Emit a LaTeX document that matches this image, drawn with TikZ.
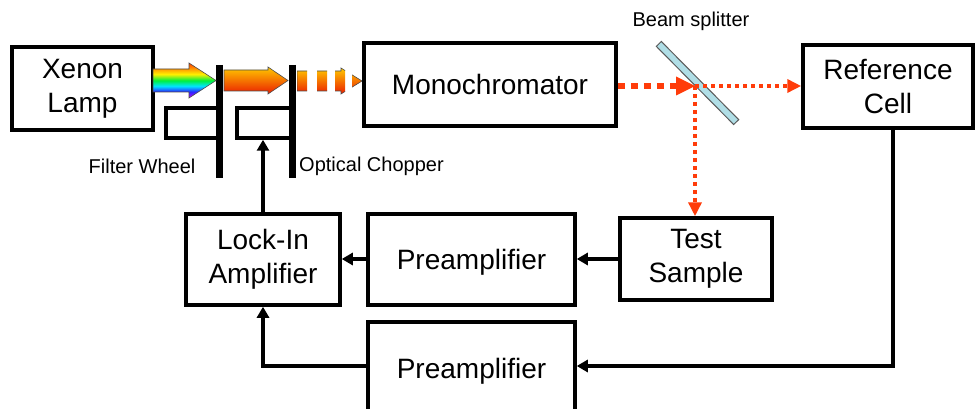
\documentclass[tikz,border=0pt]{standalone}
\usepackage{fontspec}
\setmainfont{Liberation Sans}
\usetikzlibrary{arrows.meta}
\definecolor{beam}{RGB}{255,60,10}
\definecolor{splitfill}{RGB}{176,222,230}
\definecolor{rbviolet}{RGB}{190,0,255}
\definecolor{rbblue}{RGB}{40,40,255}
\definecolor{rbcyan}{RGB}{0,230,255}
\definecolor{rbgreen}{RGB}{0,240,60}
\definecolor{rbyellow}{RGB}{255,240,0}
\definecolor{rborange}{RGB}{255,150,0}
\definecolor{rbred}{RGB}{255,60,0}
\definecolor{orred}{RGB}{235,30,0}
\definecolor{oryellow}{RGB}{255,200,0}
\pgfdeclareverticalshading{rainbowv}{100bp}{color(0bp)=(rbviolet); color(25bp)=(rbviolet); color(34bp)=(rbblue); color(42bp)=(rbcyan); color(50bp)=(rbgreen); color(59bp)=(rbyellow); color(67bp)=(rborange); color(75bp)=(rbred); color(100bp)=(rbred)}
\pgfdeclareverticalshading{orangev}{100bp}{color(0bp)=(orred); color(25bp)=(orred); color(75bp)=(oryellow); color(100bp)=(oryellow)}
\begin{document}
\begin{tikzpicture}[x=1pt,y=-1pt,
  box/.style={draw, line width=3.5pt, align=center, inner sep=0pt,
    font=\fontsize{28}{34}\selectfont},
  oneline/.style={box, text depth=0pt},
  small/.style={box, minimum width=#1, minimum height=30pt},
  lbl/.style={font=\fontsize{20}{24}\selectfont, inner sep=0pt},
  conn/.style={line width=3.5pt, -{Triangle[length=11pt,width=12pt]}},
  bar/.style={line width=7pt},
  thickbeam/.style={draw=beam, line width=6pt, dash pattern=on 7pt off 6pt},
  thinbeam/.style={draw=beam, line width=4pt, dash pattern=on 4pt off 4pt,
    -{Triangle[length=14pt,width=13pt]}},
  outl/.style={draw=black!70, line width=0.6pt}]
\useasboundingbox (0,0) rectangle (975,409);

% boxes
\node[box, minimum width=141pt, minimum height=83pt] (lamp) at (82.5,88.5) {Xenon\\Lamp};
\node[oneline, minimum width=252pt, minimum height=83pt] (mono) at (490,84.5) {Monochromator};
\node[box, minimum width=170pt, minimum height=83pt] (ref) at (888,86.5) {Reference\\Cell};
\node[box, minimum width=152pt, minimum height=82pt] (test) at (696,259) {Test\\Sample};
\node[oneline, minimum width=207pt, minimum height=91pt] (pre1) at (471.5,259.5) {Preamplifier};
\node[box, minimum width=154pt, minimum height=91pt] (lock) at (263,259.5) {Lock-In\\Amplifier};
\node[oneline, minimum width=207pt, minimum height=92pt] (pre2) at (471.5,368) {Preamplifier};

% filter wheel and chopper
\node[small=53pt] (fwbox) at (192.5,123) {};
\node[small=55pt] (chbox) at (264.5,123) {};
\coordinate (fwtop) at (219,65);
\coordinate (fwbot) at (219,178);
\coordinate (chtop) at (292,65);
\coordinate (chbot) at (292,178);
\draw[bar] (fwtop) -- (fwbot);
\draw[bar] (chtop) -- (chbot);

% labels
\node[lbl] (fwlbl) at (142,166) {Filter Wheel};
\node[lbl, anchor=west] (chlbl) at (299,166) {Optical Chopper};
\node[lbl] (bslbl) at (691,21) {Beam splitter};

% rainbow arrow
\path[shading=rainbowv, outl] (153,69) -- (189,69) -- (189,63) -- (216,80.5) -- (189,98) -- (189,92) -- (153,92) -- cycle;
% orange arrow
\path[shading=orangev, outl] (224,70) -- (268,70) -- (268,67) -- (288,80.5) -- (268,94) -- (268,91) -- (224,91) -- cycle;
% dashed orange arrow
\foreach \a/\b in {297/307, 317/327, 335/345, 352/362}{
  \begin{scope}
    \clip (\a,50) rectangle (\b,110);
    \path[shading=orangev, outl] (297,71) -- (341,71) -- (341,68) -- (362,81) -- (341,94) -- (341,91) -- (297,91) -- cycle;
  \end{scope}
}

% beam splitter
\node[draw=black!65, fill=splitfill, line width=1pt, minimum width=110pt, minimum height=7pt, inner sep=0pt, rotate=-45.3] (bs) at (697.5,83) {};
\coordinate (hit) at (695,86);

% red beams
\coordinate (monoout) at (mono.east |- hit);
\path[thickbeam] (monoout) -- ([xshift=-18pt]hit);
\fill[beam] ([xshift=-19pt,yshift=-9.5pt]hit) -- (hit) -- ([xshift=-19pt,yshift=9.5pt]hit) -- cycle;
\draw[thinbeam] (hit) -- (ref.west |- hit);
\draw[thinbeam] (hit) -- (hit |- test.north);

% black connectors
\draw[conn] (test.west |- 0,259) -- (pre1.east |- 0,259);
\draw[conn] (pre1.west |- 0,259) -- (lock.east |- 0,259);
\draw[conn] ([xshift=5pt]ref.south) |- (pre2.east |- 0,366);
\draw[conn] (pre2.west |- 0,366) -| (lock.south);
\draw[conn] (lock.north) -- (lock.north |- chbox.south);
\end{tikzpicture}
\end{document}
